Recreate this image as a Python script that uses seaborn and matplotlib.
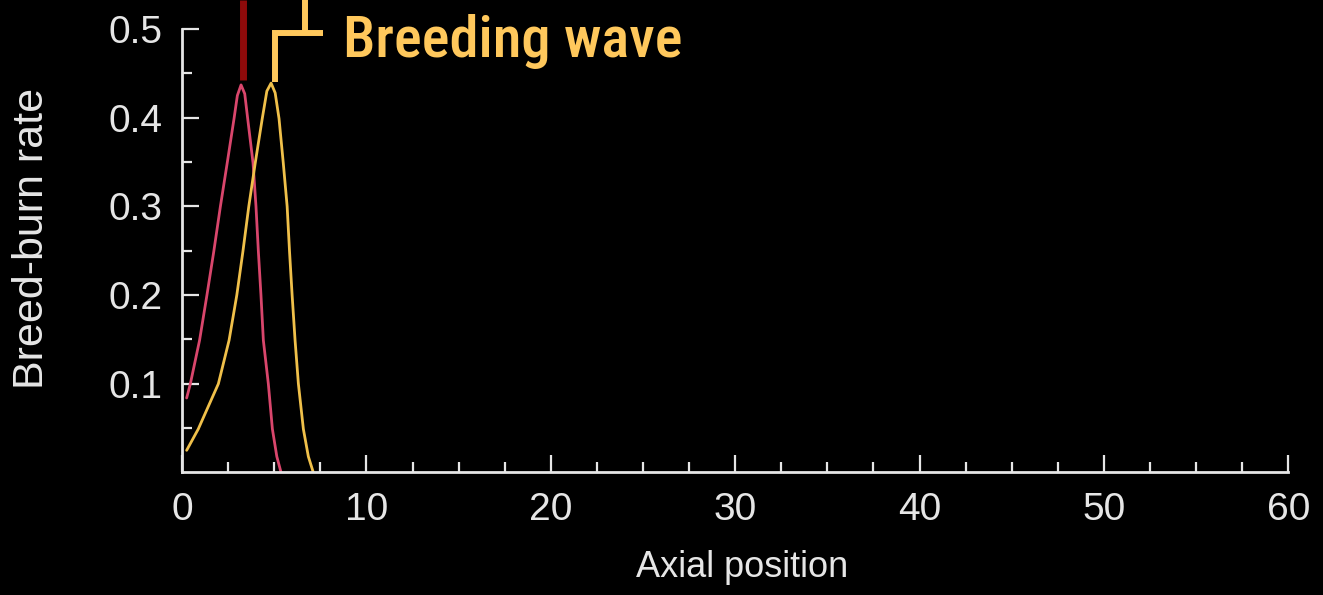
import numpy as np
import pandas as pd
import matplotlib
matplotlib.use("Agg")
import matplotlib.pyplot as plt
from matplotlib import font_manager
from matplotlib.ticker import MultipleLocator, FixedLocator
import seaborn as sns

# Burn wave (red) and breeding wave (yellow) profiles along the axis
burn_x = [0.25, 0.45, 0.95, 1.35, 1.72, 2.08, 2.45, 2.82, 3.00, 3.20, 3.40, 3.56,
          3.85, 4.01, 4.14, 4.28, 4.41, 4.68, 4.90, 5.14, 5.37]
burn_y = [0.084, 0.100, 0.149, 0.200, 0.249, 0.300, 0.349, 0.399, 0.425, 0.437, 0.427, 0.399,
          0.349, 0.300, 0.249, 0.200, 0.149, 0.100, 0.049, 0.018, 0.0]

breed_x = [0.25, 0.88, 1.97, 2.55, 2.97, 3.30, 3.62, 3.97, 4.35, 4.60, 4.83, 5.05, 5.26,
           5.49, 5.70, 5.83, 5.97, 6.13, 6.31, 6.58, 6.85, 7.12]
breed_y = [0.025, 0.049, 0.100, 0.149, 0.200, 0.249, 0.300, 0.349, 0.399, 0.430, 0.439, 0.428, 0.399,
           0.349, 0.300, 0.249, 0.200, 0.149, 0.100, 0.049, 0.018, 0.0]

x_ticks = [0, 10, 20, 30, 40, 50, 60]
y_ticks = [0.1, 0.2, 0.3, 0.4, 0.5]
y_ticklabels = ["0.1", "0.2", "0.3", "0.4", "0.5"]

BURN_COLOR = "#d9466c"
BREED_COLOR = "#f0c04a"
FG = "#e6e6e6"

sns.set_theme(style="dark", rc={
    "figure.facecolor": "black",
    "axes.facecolor": "black",
    "savefig.facecolor": "black",
})
plt.rcParams["font.family"] = ["Liberation Sans", "DejaVu Sans"]


def narrow_font(size):
    """Pick a condensed sans face for the callout if one is installed."""
    stretches = ("condensed", "semi-condensed", "extra-condensed")
    wanted = ("Liberation Sans Narrow", "Roboto Condensed", "Noto Sans", "Open Sans", "Roboto")
    entries = font_manager.fontManager.ttflist
    for weights in ((500, "medium"), (400, "normal")):
        for name in wanted:
            for f in entries:
                if f.name == name and (name.endswith(("Narrow", "Condensed")) or f.stretch in stretches) \
                        and f.style == "normal" and f.weight in weights:
                    return font_manager.FontProperties(fname=f.fname, size=size)
    return font_manager.FontProperties(family="Liberation Sans", size=size * 0.92)


fig = plt.figure(figsize=(13.23, 5.95), dpi=100)
ax = fig.add_axes([0.1376, 0.2059, 0.9738 - 0.1376, 1 - 0.2059])

df_burn = pd.DataFrame({"x": burn_x, "y": burn_y})
df_breed = pd.DataFrame({"x": breed_x, "y": breed_y})
sns.lineplot(data=df_burn, x="x", y="y", sort=False, color=BURN_COLOR, lw=2.0, ax=ax)
sns.lineplot(data=df_breed, x="x", y="y", sort=False, color=BREED_COLOR, lw=2.0, ax=ax)

ax.set_xlim(0, 60)
ax.set_ylim(0, 0.5327)

for side in ("top", "right"):
    ax.spines[side].set_visible(False)
for side in ("left", "bottom"):
    ax.spines[side].set_color(FG)
    ax.spines[side].set_linewidth(2.0)
ax.spines["left"].set_bounds(0, 0.5)
ax.spines["bottom"].set_bounds(0, 60)

ax.xaxis.set_major_locator(FixedLocator(x_ticks))
ax.xaxis.set_minor_locator(MultipleLocator(2.5))
ax.yaxis.set_major_locator(FixedLocator(y_ticks))
ax.yaxis.set_minor_locator(FixedLocator([0.05, 0.15, 0.25, 0.35, 0.45]))
ax.set_yticklabels(y_ticklabels)

ax.tick_params(axis="both", which="both", direction="in", colors=FG, width=1.6,
               bottom=True, left=True, top=False, right=False)
ax.tick_params(axis="both", which="major", length=12.5, labelsize=28)
ax.tick_params(axis="both", which="minor", length=7.5)
ax.tick_params(axis="x", which="major", pad=14)
ax.tick_params(axis="y", which="major", pad=14)
ax.grid(False)

ax.set_xlabel("Axial position", fontsize=26, color=FG)
ax.set_ylabel("Breed-burn rate", fontsize=31, color=FG)
ax.xaxis.set_label_coords(0.506, -0.165)
ax.yaxis.set_label_coords(-0.118, 0.496)

# Callout markers above the two peaks
burn_peak_x = burn_x[int(np.argmax(burn_y))]
breed_peak_x = breed_x[int(np.argmax(breed_y))]
top = ax.get_ylim()[1]
ax.plot([burn_peak_x + 0.11, burn_peak_x + 0.11], [0.4425, top], color="#8e0a0a",
        lw=5.0, clip_on=False, solid_capstyle="butt")
bx = breed_peak_x + 0.21
ax.plot([bx, bx, bx + 2.61], [0.440, 0.4955, 0.4955], color="#ffc85c",
        lw=4.3, clip_on=False, solid_capstyle="butt", solid_joinstyle="miter")
ax.plot([bx + 1.63, bx + 1.63], [0.4955, top], color="#ffc85c",
        lw=4.3, clip_on=False, solid_capstyle="butt")
ax.text(8.73, 0.468, "Breeding wave", color="#ffc85c",
        fontproperties=narrow_font(42), ha="left", va="baseline")

fig.savefig("out.png", dpi=100, facecolor="black")
